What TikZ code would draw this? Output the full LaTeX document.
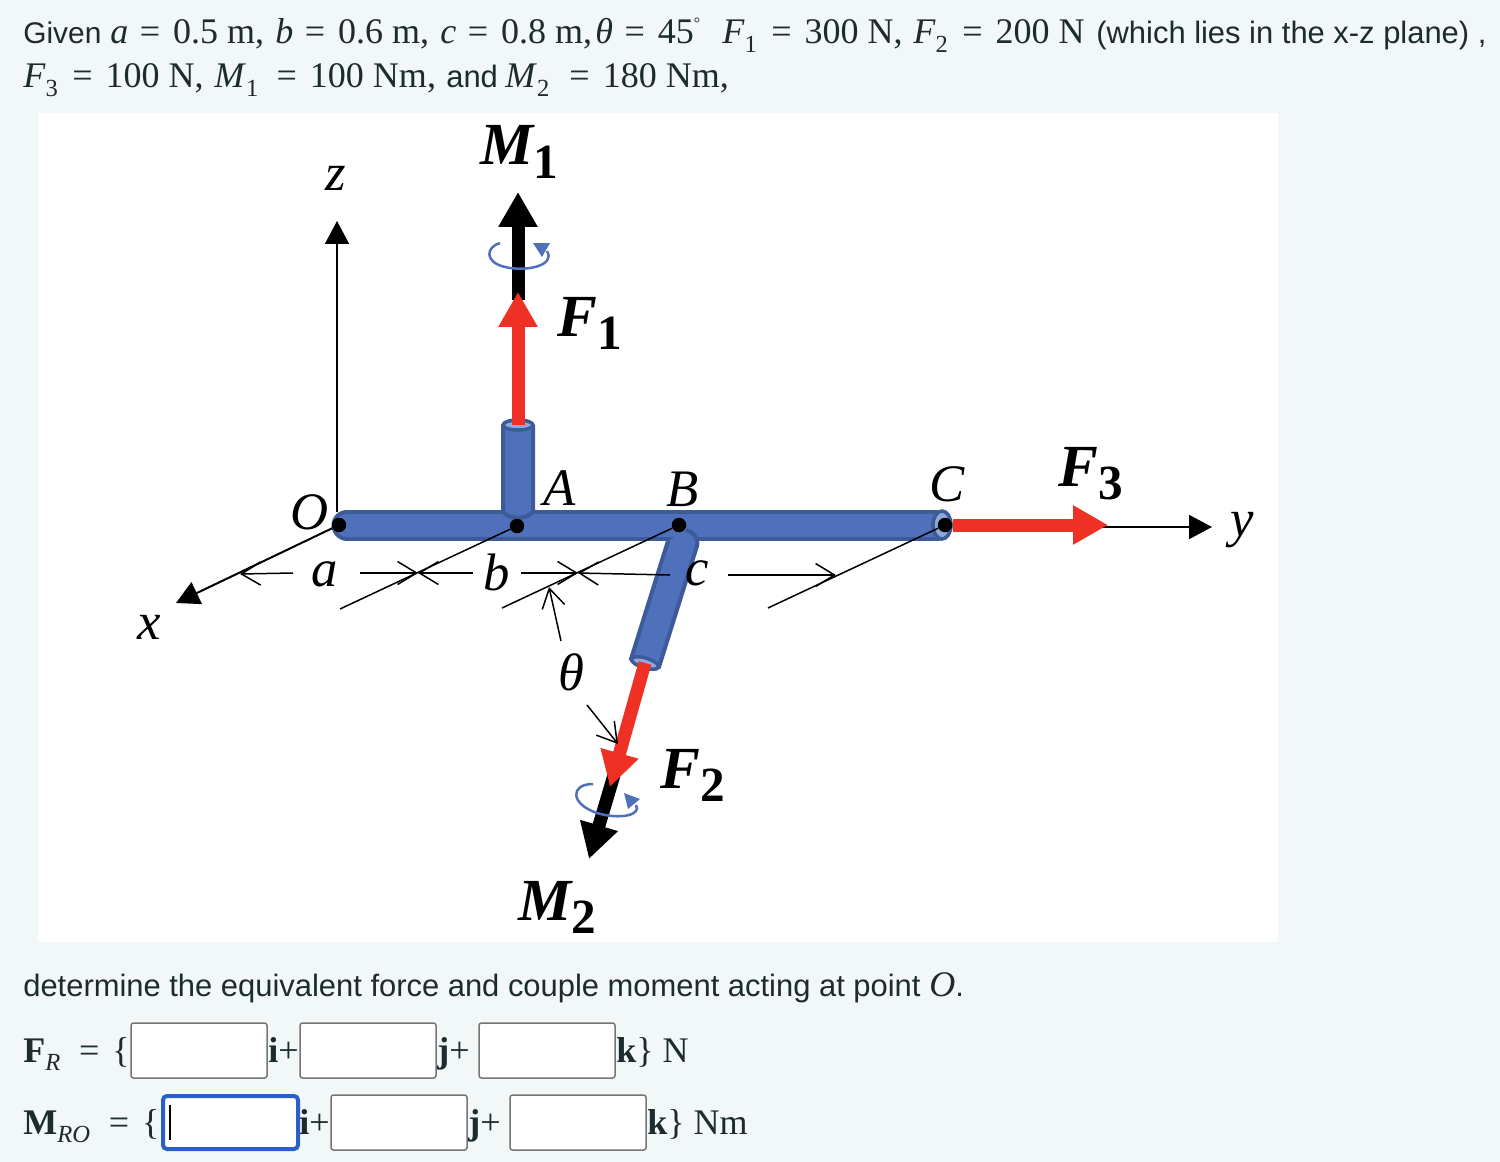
\documentclass[tikz,border=0pt]{standalone}
\usepackage{fontspec}
\setmainfont{Liberation Serif}
\newfontfamily\uifont{Liberation Sans}
\usetikzlibrary{calc, arrows, arrows.meta}
\definecolor{pagebg}{HTML}{F2F7F8}
\definecolor{inktext}{HTML}{1C2B2B}
\definecolor{tubeblue}{HTML}{4F71BC}
\definecolor{tubedark}{HTML}{3D5A99}
\definecolor{tubeend}{HTML}{8FA9DC}
\definecolor{forcered}{HTML}{EE3124}
\definecolor{boxgrey}{HTML}{757575}
\definecolor{focusblue}{HTML}{2B5FC7}
\newcommand{\lowsub}[1]{\raisebox{-0.24em}{\fontsize{14}{14}\selectfont #1}}
\newcommand{\forcelab}[2]{{\bfseries\itshape #1}\raisebox{-0.22em}{\fontsize{28}{28}\selectfont\bfseries\upshape #2}}
\newcommand{\eqs}{\hspace{0.32em}=\hspace{0.36em}}
\tikzstyle{line1}=[anchor=base west, inner sep=0pt, text=inktext, font=\fontsize{20.5}{22}\selectfont]
\tikzstyle{uitxt}=[line1, font=\fontsize{17.6}{20}\selectfont\uifont]
\tikzstyle{lab}=[inner sep=0pt, font=\fontsize{30}{32}\selectfont\itshape]
\tikzstyle{forcetxt}=[anchor=base west, inner sep=0pt, font=\fontsize{34}{36}\selectfont]
\tikzstyle{dot}=[circle, fill=black, inner sep=0pt, minimum size=0.29cm]
\tikzstyle{tube}=[draw=tubedark, fill=tubeblue, line width=0.08cm]
\tikzstyle{tubecap}=[draw=tubedark, fill=tubeend, line width=0.07cm]
\tikzstyle{thinax}=[black, line width=0.04cm, -{Triangle[length=0.46cm,width=0.48cm]}]
\tikzstyle{dim}=[black, line width=0.03cm, -{Straight Barb[length=0.38cm,width=0.46cm]}]
\tikzstyle{ext}=[black, line width=0.03cm]
\tikzstyle{redforce}=[forcered, line width=0.26cm, -{Triangle[length=0.7cm,width=0.74cm]}]
\tikzstyle{blackforce}=[black, line width=0.26cm, -{Triangle[length=0.7cm,width=0.74cm]}]
\tikzstyle{spin}=[tubeblue, line width=0.05cm]
\tikzstyle{ansbox}=[draw=boxgrey, fill=white, rounded corners=0.05cm, line width=0.03cm]
\tikzstyle{focusbox}=[draw=focusblue, fill=white, rounded corners=0.08cm, line width=0.08cm]

\begin{document}
\begin{tikzpicture}[x=0.02cm,y=-0.02cm]
  \useasboundingbox (0,0) rectangle (1500,1162);
  \fill[pagebg] (0,0) rectangle (1500,1162);
  \fill[white] (38,113) rectangle (1278,942);
  % statement
  \node[uitxt, font=\fontsize{17}{20}\selectfont\uifont] (given) at (23,44) {Given};
  \node[line1] (vala) at (110,44) {\textit{a}\eqs 0.5 m,};
  \node[line1] (valb) at (275,44) {\textit{b}\eqs 0.6 m,};
  \node[line1] (valc) at (440,44) {\textit{c}\eqs 0.8 m,};
  \node[line1] (valt) at (595,44) {\textit{θ}\eqs 45\raisebox{0.42em}{\fontsize{9}{9}\selectfont °}};
  \node[line1] (valfa) at (722,44) {\textit{F}\lowsub{1}\hspace{0.08em}\eqs 300 N,};
  \node[line1] (valfb) at (913,44) {\textit{F}\lowsub{2}\hspace{0.08em}\eqs 200 N};
  \node[uitxt] (plane) at (1096,44) {(which lies in the x-z plane) ,};
  \node[line1] (valfc) at (23,88) {\textit{F}\lowsub{3}\hspace{0.08em}\eqs 100 N,};
  \node[line1] (valma) at (214,88) {\textit{M}\lowsub{1}\hspace{0.19em}\eqs 100 Nm,};
  \node[uitxt] (wand) at (446,88) {and};
  \node[line1] (valmb) at (505,88) {\textit{M}\lowsub{2}\hspace{0.24em}\eqs 180 Nm,};
  % tubes
  \coordinate (tl) at (347,525);
  \coordinate (tr) at (937,525);
  \draw[tubedark, line width=0.62cm, line cap=round] (tl) -- (tr);
  \draw[tubeblue, line width=0.46cm, line cap=round] (tl) -- (tr);
  \draw[tubecap] (942,525) ellipse [x radius=9, y radius=14];
  \draw[tube] (503,425) -- (503,511) .. controls (506,520) and (530,520) .. (533,511) -- (533,425);
  \draw[tubecap] (518,425) ellipse [x radius=15, y radius=5];
  \draw[tube] (668,541) -- (631,659) .. controls (636,667) and (652,672) .. (659,667) -- (697,546) .. controls (699,538) and (693,532) .. (686,530);
  \draw[tubecap, rotate around={-17:(645,663)}] (645,663) ellipse [x radius=14, y radius=5];
  % axes
  \node[dot] (O) at (339,525) {};
  \node[dot] (A) at (517,526) {};
  \node[dot] (B) at (679,525) {};
  \node[dot] (C) at (945,525) {};
  \coordinate (ztip) at (337,221);
  \coordinate (xtip) at (176,603);
  \coordinate (ytip) at (1212,527);
  \coordinate (zfoot) at (337,512);
  \coordinate (yfoot) at (1100,527);
  \draw[thinax] (zfoot) -- (ztip);
  \draw[thinax] (O) -- (xtip);
  \draw[thinax] (yfoot) -- (ytip);
  % forces
  \coordinate (fa0) at (518,425);
  \coordinate (fa1) at (518,292);
  \coordinate (ma0) at (518,300);
  \coordinate (ma1) at (518,192);
  \draw[blackforce] (ma0) -- (ma1);
  \draw[redforce] (fa0) -- (fa1);
  \coordinate (fb0) at (645,663);
  \coordinate (fb1) at (610,787);
  \coordinate (mb0) at (614,775);
  \coordinate (mb1) at (589,859);
  \draw[blackforce] (mb0) -- (mb1);
  \draw[redforce] (fb0) -- (fb1);
  \draw[redforce] (C) -- (1108,525);
  % spin marks
  \draw[spin] (500,243) .. controls (486,247) and (484,262) .. (505,267) .. controls (525,272) and (556,266) .. (547,251);
  \fill[tubeblue] (533,243) -- (550,243) -- (542,257) -- cycle;
  \draw[spin] (593,784) .. controls (570,784) and (570,804) .. (597,813) .. controls (620,820) and (642,815) .. (636,805);
  \fill[tubeblue] (624,793) -- (640,799) -- (628,809) -- cycle;
  % dimensions
  \coordinate (ca) at (340,609);
  \coordinate (cb) at (502,608);
  \coordinate (cc) at (768,608);
  \draw[ext] (A) -- (ca);
  \draw[ext] (B) -- (cb);
  \draw[ext] (C) -- (cc);
  \coordinate (d1) at (240,574);
  \coordinate (d2) at (293,573);
  \coordinate (d3) at (360,573);
  \coordinate (d4) at (418,573);
  \coordinate (d5) at (473,573);
  \coordinate (d6) at (521,573);
  \coordinate (d7) at (578,573);
  \coordinate (d8) at (670,575);
  \coordinate (d9) at (728,575);
  \coordinate (d10) at (836,575);
  \draw[dim] (d2) -- (d1);
  \draw[dim] (d3) -- (d4);
  \draw[dim] (d5) -- (d4);
  \draw[dim] (d6) -- (d7);
  \draw[dim] (d8) -- (d7);
  \draw[dim] (d9) -- (d10);
  \coordinate (t1) at (561,641);
  \coordinate (t2) at (549,587);
  \coordinate (t3) at (587,705);
  \coordinate (t4) at (618,744);
  \draw[dim] (t1) -- (t2);
  \draw[dim] (t3) -- (t4);
  % labels
  \node[lab] (zlab) at (336,178) {z};
  \node[lab] (xlab) at (149,627) {x};
  \node[lab] (ylab) at (1242,530) {y};
  \node[lab] (Olab) at (310,512) {O};
  \node[lab] (Alab) at (560,488) {A};
  \node[lab] (Blab) at (683,489) {B};
  \node[lab] (Clab) at (947,484) {C};
  \node[lab] (alab) at (325,574) {a};
  \node[lab] (blab) at (497,572) {b};
  \node[lab] (clab) at (697,573) {c};
  \node[lab] (tlab) at (571,672) {θ};
  \node[forcetxt] (Malab) at (480,165) {\forcelab{M}{1}};
  \node[forcetxt] (Falab) at (557,336) {\forcelab{F}{1}};
  \node[forcetxt] (Fblab) at (660,788) {\forcelab{F}{2}};
  \node[forcetxt] (Mblab) at (518,920) {\forcelab{M}{2}};
  \node[forcetxt] (Fclab) at (1058,486) {\forcelab{F}{3}};
  % answers
  \node[uitxt] (ask) at (23,996) {determine the equivalent force and couple moment acting at point {\rmfamily\fontsize{20.5}{22}\selectfont\textit{O}}.};
  \node[line1] (fr) at (23,1062) {\textbf{F}\lowsub{\textit{R}}\hspace{0.2em}\eqs\{};
  \draw[ansbox] (131,1023) rectangle (267,1078);
  \node[line1] (fri) at (268,1062) {\textbf{i}+};
  \draw[ansbox] (300,1023) rectangle (436,1078);
  \node[line1] (frj) at (437,1062) {\textbf{j}+};
  \draw[ansbox] (479,1023) rectangle (615,1078);
  \node[line1] (frk) at (616,1062) {\textbf{k}\} N};
  \node[line1] (mr) at (23,1134) {\textbf{M}\lowsub{\textit{RO}}\hspace{0.2em}\eqs\{};
  \draw[focusbox] (163,1096) rectangle (298,1149);
  \draw[black, line width=0.035cm] (170,1105) -- (170,1140);
  \node[line1] (mri) at (299,1134) {\textbf{i}+};
  \draw[ansbox] (331,1095) rectangle (467,1150);
  \node[line1] (mrj) at (468,1134) {\textbf{j}+};
  \draw[ansbox] (510,1095) rectangle (646,1150);
  \node[line1] (mrk) at (647,1134) {\textbf{k}\} Nm};
\end{tikzpicture}
\end{document}
